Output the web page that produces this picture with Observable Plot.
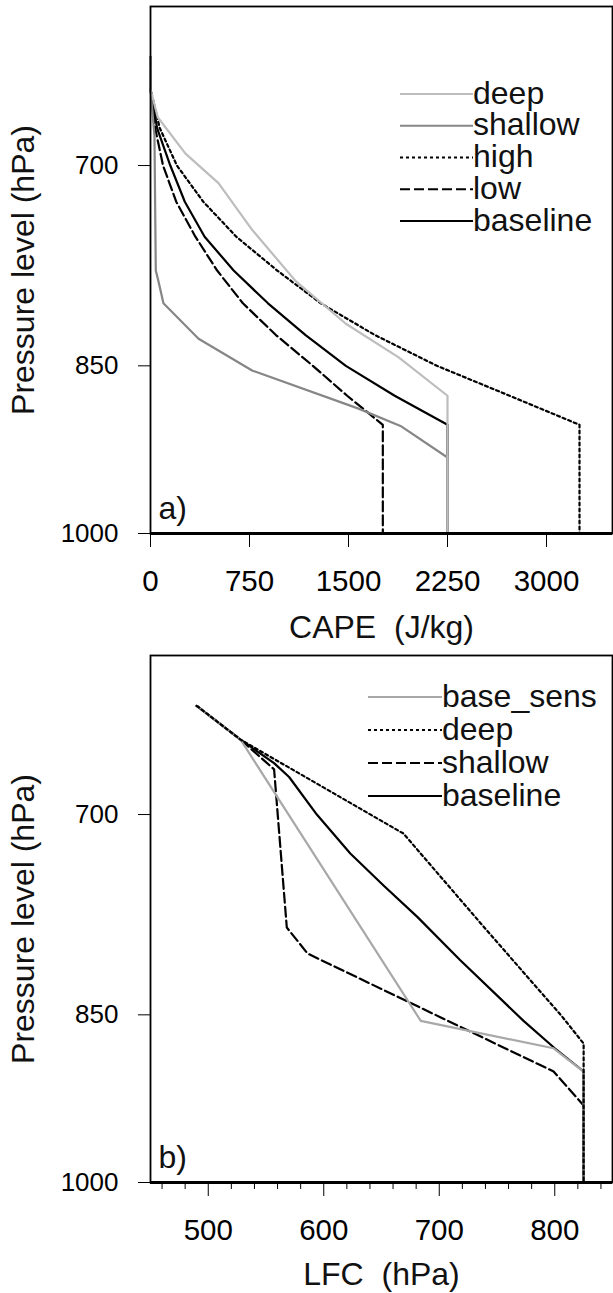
<!DOCTYPE html>
<html>
<head>
<meta charset="utf-8">
<script src="https://cdn.jsdelivr.net/npm/d3@7"></script>
<script src="https://cdn.jsdelivr.net/npm/@observablehq/plot@0.6"></script>
<style>
  html, body { margin: 0; padding: 0; background: #fff; }
  #chart svg { display: block; overflow: visible; }
</style>
</head>
<body>
<div id="chart"></div>
<script>
// ---------- shared ----------
const yDomain = [600, 1000];
const yTicks = [700, 850, 1000];
const yLabel = "Pressure level (hPa)";

// ---------- panel a: CAPE ----------
const aXDomain = [0, 3500];
const aXTicks = [0, 750, 1500, 2250, 3000];
const aXLabel = "CAPE \u00a0(J/kg)";
const aPanel = "a)";
const aNames = ["deep", "shallow", "high", "low", "baseline"];

const aDeepP    = [630, 650, 668, 692, 712, 745, 783, 816, 843, 875, 1000];
const aDeepCape = [0, 0, 55, 265, 515, 770, 1100, 1480, 1880, 2250, 2250];

const aShallowP    = [630, 650, 680, 775, 783, 800, 828, 854, 886, 901, 929, 1000];
const aShallowCape = [0, 0, 30, 40, 60, 98, 364, 773, 1576, 1894, 2250, 2250];

const aHighP    = [630, 650, 675, 700, 725, 750, 775, 800, 825, 850, 875, 900, 1000];
const aHighCape = [0, 0, 70, 200, 400, 650, 960, 1290, 1700, 2170, 2720, 3250, 3250];

const aLowP    = [630, 650, 675, 700, 725, 750, 775, 800, 825, 850, 875, 900, 1000];
const aLowCape = [0, 0, 35, 95, 195, 340, 505, 700, 950, 1230, 1490, 1760, 1760];

const aBaseP    = [630, 650, 675, 700, 725, 750, 775, 800, 825, 850, 875, 900, 1000];
const aBaseCape = [0, 0, 50, 150, 260, 410, 630, 890, 1175, 1480, 1850, 2250, 2250];

// ---------- panel b: LFC ----------
const bXDomain = [450, 850];
const bXTicks = [500, 600, 700, 800];
const bXMinorTicks = [460, 480, 520, 540, 560, 580, 620, 640, 660, 680, 720, 740, 760, 780, 820, 840];
const bXLabel = "LFC \u00a0(hPa)";
const bPanel = "b)";
const bNames = ["base_sens", "deep", "shallow", "baseline"];

const bBaseSensP   = [630, 651, 855, 878, 898, 1000];
const bBaseSensLfc = [490, 528, 684, 799, 825, 825];

const bDeepP   = [630, 651, 713, 781, 851, 874, 1000];
const bDeepLfc = [490, 528, 669, 739, 806, 825, 825];

const bShallowP   = [630, 651, 670, 781, 801, 898, 928, 1000];
const bShallowLfc = [490, 528, 557, 568, 586, 799, 825, 825];

const bBaseP   = [630, 651, 666, 675, 700, 727, 750, 773, 806, 855, 878, 898, 1000];
const bBaseLfc = [490, 528, 557, 570, 594, 623, 652, 681, 718, 773, 800, 825, 825];

// ---------- styles ----------
const FONT = "'Liberation Sans', Arial, Helvetica, sans-serif";
const STY = {
  deepA:    {stroke: "#bdbdbd", strokeWidth: 2.2, strokeDasharray: null},
  shallowA: {stroke: "#868686", strokeWidth: 2.2, strokeDasharray: null},
  dotted:   {stroke: "#000", strokeWidth: 2.2, strokeDasharray: "3,3"},
  dashed:   {stroke: "#000", strokeWidth: 2.2, strokeDasharray: "10,4"},
  solid:    {stroke: "#000", strokeWidth: 2.2, strokeDasharray: null},
  sens:     {stroke: "#a8a8a8", strokeWidth: 2.2, strokeDasharray: null}
};

function rows(name, P, V) { return P.map((p, i) => ({series: name, p, v: V[i]})); }

function lineMark(data, st) {
  const o = {x: "v", y: "p", stroke: st.stroke, strokeWidth: st.strokeWidth, curve: "linear"};
  if (st.strokeDasharray) o.strokeDasharray = st.strokeDasharray;
  return Plot.line(data, o);
}

function panel(cfg) {
  const marks = [];
  marks.push(Plot.axisY({ticks: yTicks, tickSize: 12, tickPadding: 20, fontSize: 26, tickFormat: d => String(d), label: null}));
  marks.push(Plot.axisX({ticks: cfg.xTicks, tickSize: 14, tickPadding: 23, fontSize: 29.5, tickFormat: d => String(d), label: null}));
  if (cfg.minor) marks.push(Plot.axisX({ticks: cfg.minor, tickSize: 7, text: null, label: null}));
  for (const s of cfg.series) marks.push(lineMark(s.data, s.style));
  marks.push(Plot.frame({stroke: "#000", strokeWidth: 1.8}));
  marks.push(Plot.ruleY([yDomain[1]], {stroke: "#000", strokeWidth: 3.2}));
  marks.push(Plot.text([yLabel], {text: d => d, frameAnchor: "left", dx: -127, rotate: -90, textAnchor: "middle", lineAnchor: "middle", fontSize: 32, fill: "#111"}));
  marks.push(Plot.text([cfg.xLabel], {text: d => d, frameAnchor: "bottom", dy: cfg.xLabelDy, textAnchor: "middle", lineAnchor: "bottom", fontSize: 32, fill: "#111"}));
  marks.push(Plot.text([cfg.panel], {text: d => d, frameAnchor: "bottom-left", dx: 8, dy: -15, textAnchor: "start", lineAnchor: "bottom", fontSize: 32, fill: "#111"}));

  const svg = Plot.plot({
    width: 613,
    height: cfg.height,
    marginTop: 6,
    marginBottom: cfg.height - 533,
    marginLeft: 150,
    marginRight: 1,
    style: {fontFamily: FONT, background: "#fff", color: "#000", overflow: "visible"},
    x: {domain: cfg.xDomain},
    y: {type: "log", domain: yDomain, reverse: true},
    marks
  });

  // in-frame legend
  const g = d3.select(svg).append("g")
    .attr("font-family", FONT).attr("font-size", 32).attr("fill", "#111")
    .attr("text-anchor", "start");
  cfg.legend.forEach((it, i) => {
    const y = cfg.legY0 + i * cfg.legDy;
    const ln = g.append("line")
      .attr("x1", cfg.legX0).attr("x2", cfg.legX1)
      .attr("y1", y).attr("y2", y)
      .attr("stroke", it.style.stroke).attr("stroke-width", it.style.strokeWidth);
    if (it.style.strokeDasharray) ln.attr("stroke-dasharray", it.style.strokeDasharray);
    g.append("text").attr("x", cfg.legX1).attr("y", y).attr("dy", "0.3em")
      .attr("text-anchor", "start").text(it.name);
  });
  return svg;
}

const aSty = {deep: STY.deepA, shallow: STY.shallowA, high: STY.dotted, low: STY.dashed, baseline: STY.solid};
const aData = {
  deep: rows("deep", aDeepP, aDeepCape),
  shallow: rows("shallow", aShallowP, aShallowCape),
  high: rows("high", aHighP, aHighCape),
  low: rows("low", aLowP, aLowCape),
  baseline: rows("baseline", aBaseP, aBaseCape)
};
const aDrawOrder = ["baseline", "low", "high", "shallow", "deep"];

const bSty = {base_sens: STY.sens, deep: STY.dotted, shallow: STY.dashed, baseline: STY.solid};
const bData = {
  base_sens: rows("base_sens", bBaseSensP, bBaseSensLfc),
  deep: rows("deep", bDeepP, bDeepLfc),
  shallow: rows("shallow", bShallowP, bShallowLfc),
  baseline: rows("baseline", bBaseP, bBaseLfc)
};
const bDrawOrder = ["baseline", "shallow", "base_sens", "deep"];

const chart = document.getElementById("chart");

chart.appendChild(panel({
  height: 649,
  xDomain: aXDomain, xTicks: aXTicks, xLabel: aXLabel, xLabelDy: 104, panel: aPanel,
  series: aDrawOrder.map(n => ({data: aData[n], style: aSty[n]})),
  legend: aNames.map(n => ({name: n, style: aSty[n]})),
  legX0: 400, legX1: 473, legY0: 94, legDy: 31.75
}));

chart.appendChild(panel({
  height: 644,
  xDomain: bXDomain, xTicks: bXTicks, minor: bXMinorTicks, xLabel: bXLabel, xLabelDy: 102, panel: bPanel,
  series: bDrawOrder.map(n => ({data: bData[n], style: bSty[n]})),
  legend: bNames.map(n => ({name: n, style: bSty[n]})),
  legX0: 368, legX1: 442, legY0: 48, legDy: 33
}));
</script>
</body>
</html>
